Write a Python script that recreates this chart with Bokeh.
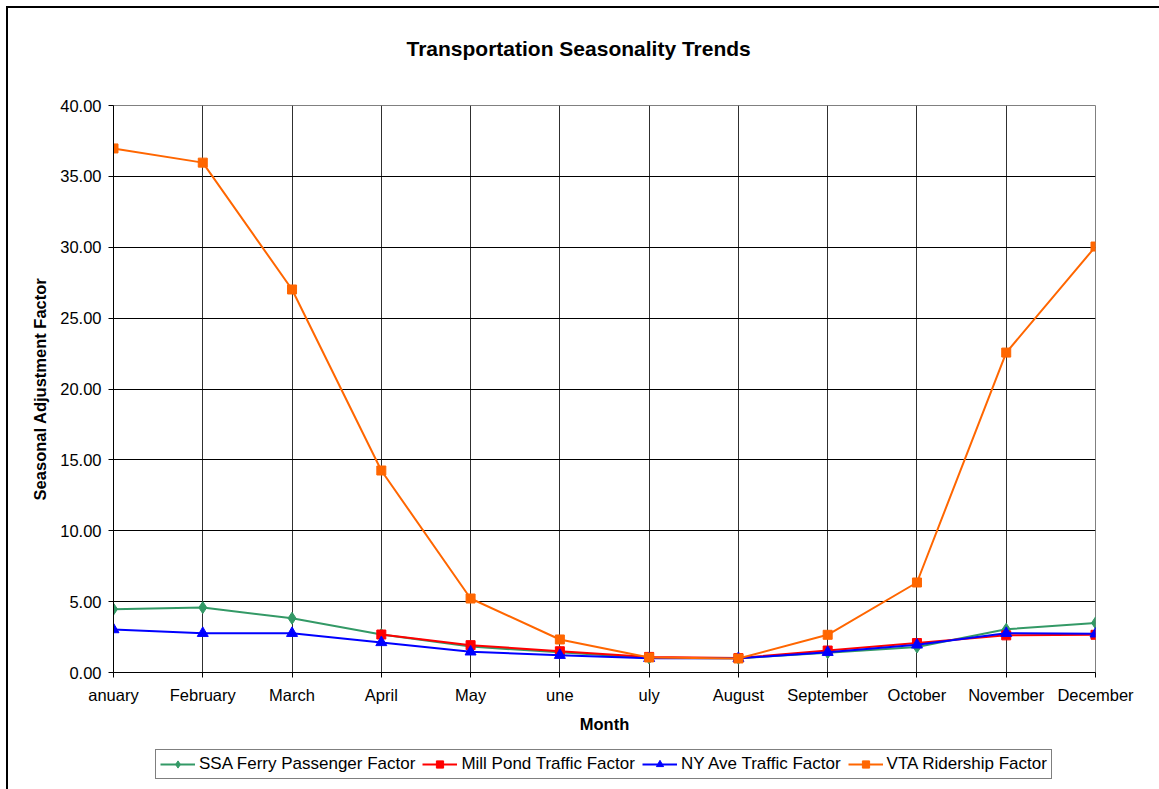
from bokeh.plotting import figure
from bokeh.layouts import column
from bokeh.models import (FixedTicker, NumeralTickFormatter, Legend, LegendItem, Range1d)
from bokeh.embed import file_html
from bokeh.resources import INLINE

NaN = float("nan")

months = ["anuary", "February", "March", "April", "May", "une", "uly",
          "August", "September", "October", "November", "December"]
ssa_ferry = [4.47, 4.58, 3.83, 2.68, 1.83, 1.42, 1.02, 1.00, 1.40, 1.80, 3.05, 3.50]
mill_pond = [NaN, NaN, NaN, 2.68, 1.93, 1.50, 1.10, 1.02, 1.55, 2.08, 2.62, 2.66]
ny_ave = [3.03, 2.77, 2.77, 2.12, 1.46, 1.22, 1.00, 1.00, 1.43, 1.95, 2.77, 2.73]
vta = [36.97, 35.97, 27.02, 14.25, 5.22, 2.33, 1.06, 0.99, 2.66, 6.35, 22.57, 30.05]
y_ticks = [0, 5, 10, 15, 20, 25, 30, 35, 40]

series = [
    ("SSA Ferry Passenger Factor", ssa_ferry, "#339966", "diamond", 12),
    ("Mill Pond Traffic Factor", mill_pond, "#FF0000", "square", 9),
    ("NY Ave Traffic Factor", ny_ave, "#0000FF", "triangle", 11),
    ("VTA Ridership Factor", vta, "#FF6600", "square", 9),
]

FONT = "Liberation Sans"
x = list(range(len(months)))

# trailing empty line keeps the title clear of the plot area
p = figure(width=1151, height=737, output_backend="svg", toolbar_location=None,
           x_range=Range1d(0, 11), y_range=Range1d(0, 40),
           min_border_left=105, min_border_right=64, min_border_top=97, min_border_bottom=73,
           title="Transportation Seasonality Trends\n ")

p.title.align = "left"
p.title.offset = 293
p.title.vertical_align = "bottom"
p.title.standoff = 46
p.title.text_font = FONT
p.title.text_font_size = "21px"
p.title.text_font_style = "bold"
p.title.text_color = "black"

p.outline_line_color = "#808080"
p.outline_line_width = 1

p.xaxis.ticker = FixedTicker(ticks=x)
p.xaxis.major_label_overrides = {i: m for i, m in enumerate(months)}
p.xaxis.axis_label = "Month"
p.yaxis.ticker = FixedTicker(ticks=y_ticks)
p.yaxis.formatter = NumeralTickFormatter(format="0.00")
p.yaxis.axis_label = "Seasonal Adjustment Factor"

for ax in (p.xaxis[0], p.yaxis[0]):
    ax.axis_line_color = "black"
    ax.major_tick_line_color = "black"
    ax.major_tick_out = 5
    ax.major_tick_in = 0
    ax.minor_tick_line_color = None
    ax.major_label_text_font = FONT
    ax.major_label_text_font_size = "16.5px"
    ax.major_label_text_color = "black"
    ax.axis_label_text_font = FONT
    ax.axis_label_text_font_size = "16.5px"
    ax.axis_label_text_font_style = "bold"
    ax.axis_label_text_color = "black"

p.xaxis.major_label_standoff = 8
p.yaxis.major_label_standoff = 7
p.xaxis.axis_label_standoff = 8
p.yaxis.axis_label_standoff = 8

p.xgrid.grid_line_color = "#303030"
p.ygrid.grid_line_color = "black"
p.xgrid.ticker = FixedTicker(ticks=x)
p.ygrid.ticker = FixedTicker(ticks=y_ticks)

# legend strip (separate figure so that the legend sits below the axis title);
# its ranges are set away from the data so only the legend shows.
lf = figure(width=1151, height=44, output_backend="svg", toolbar_location=None,
            x_axis_type=None, y_axis_type=None, min_border=0,
            x_range=Range1d(-100, -99), y_range=Range1d(-100, -99))
lf.outline_line_color = None
lf.xgrid.grid_line_color = None
lf.ygrid.grid_line_color = None

items = []
for name, vals, color, marker, size in series:
    p.line(x, vals, line_color=color, line_width=2)
    p.scatter(x, vals, marker=marker, size=size, fill_color=color, line_color=color)
    ln = lf.line(x, vals, line_color=color, line_width=2)
    sc = lf.scatter(x, vals, marker=marker, size=size, fill_color=color, line_color=color)
    items.append(LegendItem(label=name, renderers=[ln, sc]))

legend = Legend(items=items, orientation="horizontal", location=(42, 10))
legend.label_text_font = FONT
legend.label_text_font_size = "17px"
legend.label_text_color = "black"
legend.border_line_color = "black"
legend.border_line_width = 1
legend.glyph_width = 35
legend.glyph_height = 18
legend.label_height = 18
legend.label_standoff = 4
legend.spacing = 7
legend.padding = 4
legend.margin = 0
legend.background_fill_color = "white"
lf.add_layout(legend, "center")

layout = column(p, lf, spacing=0,
                styles={"margin-left": "6px", "margin-top": "6px",
                        "border-left": "2px solid black", "border-top": "2px solid black"})

open("out.html", "w").write(file_html(layout, INLINE))
